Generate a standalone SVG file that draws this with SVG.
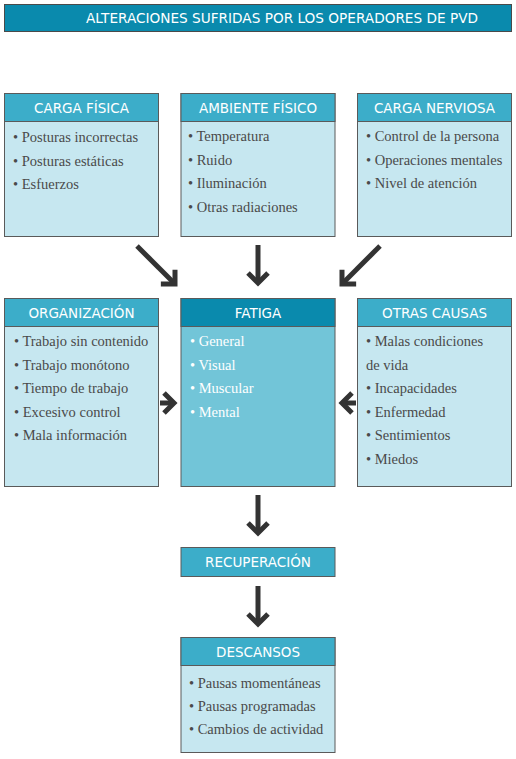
<svg xmlns="http://www.w3.org/2000/svg" width="516" height="759" viewBox="0 0 516 759">
<defs>
<style>
.title{fill:#0a8aad;stroke:#4a4a4a;stroke-width:1}
.hd{fill:#3cadc9;stroke:#5a5a5a;stroke-width:1}
.hdd{fill:#0a8aad;stroke:#5a5a5a;stroke-width:1}
.bd{fill:#c6e7f0;stroke:#5a5a5a;stroke-width:1}
.bdd{fill:#72c5d8;stroke:#5a5a5a;stroke-width:1}
.ht{font-family:"DejaVu Sans","Liberation Sans",sans-serif;font-size:13.5px;fill:#ffffff;text-anchor:middle}
.tt{font-family:"DejaVu Sans","Liberation Sans",sans-serif;font-size:13.5px;fill:#ffffff}
.it{font-family:"Liberation Serif","DejaVu Serif",serif;font-size:14.5px;fill:#4a4a4a}
.itw{font-family:"Liberation Serif","DejaVu Serif",serif;font-size:14.5px;fill:#ffffff}
.arr{stroke:#333333;stroke-width:5;fill:none;marker-end:url(#head)}
</style>
<marker id="head" markerUnits="userSpaceOnUse" viewBox="-16 -14 20 28" refX="0" refY="0" markerWidth="20" markerHeight="28" orient="auto">
<path d="M-10,-10 L0,0 L-10,10" fill="none" stroke="#333333" stroke-width="5"/>
</marker>
</defs>
<g id="title">
<rect class="title" x="4.5" y="4.5" width="507" height="27"/>
<text class="tt" x="86" y="23" textLength="392" lengthAdjust="spacingAndGlyphs">ALTERACIONES SUFRIDAS POR LOS OPERADORES DE PVD</text>
</g>
<g id="carga-fisica">
<rect class="bd" x="4.5" y="93.5" width="154" height="143"/>
<rect class="hd" x="4.5" y="93.5" width="154" height="28"/>
<text class="ht" x="81.5" y="113">CARGA FÍSICA</text>
<text class="it" x="13" y="142">• Posturas incorrectas</text>
<text class="it" x="13" y="165.5">• Posturas estáticas</text>
<text class="it" x="13" y="189">• Esfuerzos</text>
</g>
<g id="ambiente-fisico">
<rect class="bd" x="181" y="93.5" width="154" height="143"/>
<rect class="hd" x="181" y="93.5" width="154" height="28"/>
<text class="ht" x="258" y="113">AMBIENTE FÍSICO</text>
<text class="it" x="188" y="141">• Temperatura</text>
<text class="it" x="188" y="164.5">• Ruido</text>
<text class="it" x="188" y="188">• Iluminación</text>
<text class="it" x="188" y="211.5">• Otras radiaciones</text>
</g>
<g id="carga-nerviosa">
<rect class="bd" x="357.5" y="93.5" width="154" height="143"/>
<rect class="hd" x="357.5" y="93.5" width="154" height="28"/>
<text class="ht" x="434.5" y="113">CARGA NERVIOSA</text>
<text class="it" x="366" y="141">• Control de la persona</text>
<text class="it" x="366" y="164.5">• Operaciones mentales</text>
<text class="it" x="366" y="188">• Nivel de atención</text>
</g>
<g id="organizacion">
<rect class="bd" x="4.5" y="298.5" width="154" height="188"/>
<rect class="hd" x="4.5" y="298.5" width="154" height="28"/>
<text class="ht" x="81.5" y="318">ORGANIZACIÓN</text>
<text class="it" x="14" y="346">• Trabajo sin contenido</text>
<text class="it" x="14" y="369.5">• Trabajo monótono</text>
<text class="it" x="14" y="393">• Tiempo de trabajo</text>
<text class="it" x="14" y="416.5">• Excesivo control</text>
<text class="it" x="14" y="440">• Mala información</text>
</g>
<g id="fatiga">
<rect class="bdd" x="181" y="298.5" width="154" height="188"/>
<rect class="hdd" x="181" y="298.5" width="154" height="28"/>
<text class="ht" x="258" y="318">FATIGA</text>
<text class="itw" x="190" y="346">• General</text>
<text class="itw" x="190" y="369.5">• Visual</text>
<text class="itw" x="190" y="393">• Muscular</text>
<text class="itw" x="190" y="416.5">• Mental</text>
</g>
<g id="otras-causas">
<rect class="bd" x="357.5" y="298.5" width="154" height="188"/>
<rect class="hd" x="357.5" y="298.5" width="154" height="28"/>
<text class="ht" x="434.5" y="318">OTRAS CAUSAS</text>
<text class="it" x="366" y="346">• Malas condiciones</text>
<text class="it" x="366" y="369.5">de vida</text>
<text class="it" x="366" y="393">• Incapacidades</text>
<text class="it" x="366" y="416.5">• Enfermedad</text>
<text class="it" x="366" y="440">• Sentimientos</text>
<text class="it" x="366" y="463.5">• Miedos</text>
</g>
<g id="recuperacion">
<rect class="hd" x="181" y="547.5" width="154" height="29"/>
<text class="ht" x="258" y="567">RECUPERACIÓN</text>
</g>
<g id="descansos">
<rect class="bd" x="181" y="637.5" width="154" height="115"/>
<rect class="hd" x="181" y="637.5" width="154" height="28"/>
<text class="ht" x="258" y="657">DESCANSOS</text>
<text class="it" x="189" y="688">• Pausas momentáneas</text>
<text class="it" x="189" y="711">• Pausas programadas</text>
<text class="it" x="189" y="734">• Cambios de actividad</text>
</g>
<g id="connectors">
<line class="arr" x1="137" y1="246" x2="175" y2="284"/>
<line class="arr" x1="258" y1="245" x2="258" y2="283"/>
<line class="arr" x1="380" y1="246" x2="342" y2="284"/>
<line class="arr" x1="160" y1="403" x2="174" y2="403"/>
<line class="arr" x1="356" y1="403" x2="342" y2="403"/>
<line class="arr" x1="258" y1="495" x2="258" y2="533"/>
<line class="arr" x1="258" y1="586" x2="258" y2="624"/>
</g>
</svg>
